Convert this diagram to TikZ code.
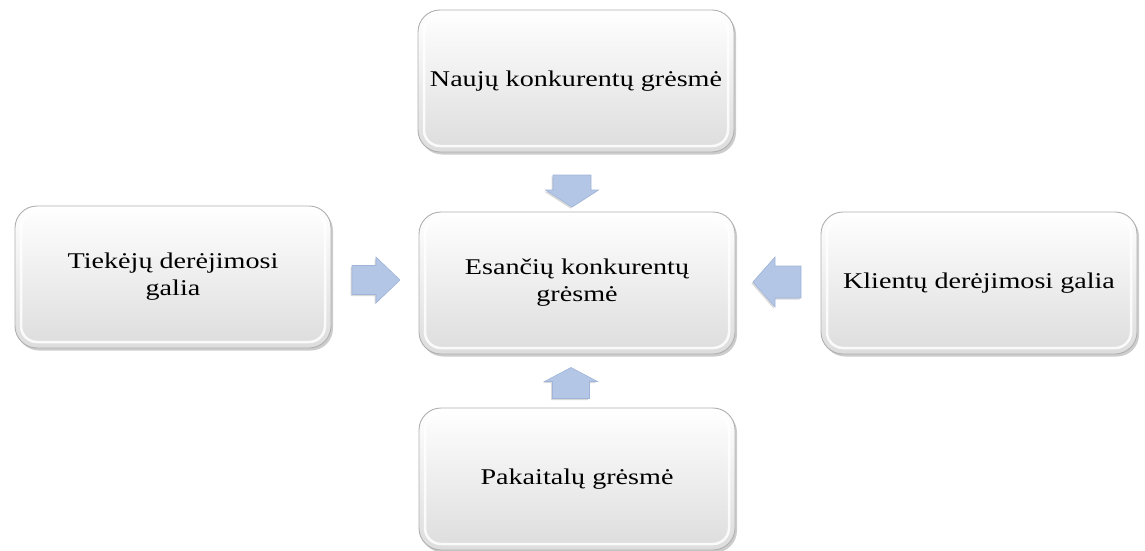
\documentclass[tikz,border=0pt]{standalone}
\usepackage{fontspec}
\setmainfont{Liberation Serif}
\newfontfamily\boxfont[FakeStretch=1.25]{Liberation Serif}
\usetikzlibrary{shadows}
\definecolor{arrowfill}{HTML}{B4C6E6}
\definecolor{arrowedge}{HTML}{9FB4D8}
\tikzset{
  forcebox/.style={
    rounded corners=22pt, minimum width=316pt, minimum height=142pt,
    align=center, font=\boxfont\fontsize{22.5}{27}\selectfont, text=black,
    top color=white, bottom color=gray!27, draw=gray!62, line width=0.9pt,
    drop shadow={opacity=0.4, shadow xshift=2pt, shadow yshift=-2.5pt},
    path picture={
      \draw[white, line width=2.5pt, rounded corners=16pt, opacity=0.85]
        ([shift={(6pt,-6pt)}]path picture bounding box.north west) rectangle
        ([shift={(-6pt,6pt)}]path picture bounding box.south east);
    }},
  arrowbody/.style={fill=arrowfill, draw=arrowedge, line width=0.6pt,
    drop shadow={opacity=0.3, shadow xshift=-1.5pt, shadow yshift=-1.5pt}},
  % block arrow pointing along +x: length, head length, head width, shaft width
  pics/blockarrow/.style n args={4}{code={
    \draw[arrowbody] (-#1/2,-#4/2) -- (#1/2-#2,-#4/2) -- (#1/2-#2,-#3/2)
      -- (#1/2,0) -- (#1/2-#2,#3/2) -- (#1/2-#2,#4/2) -- (-#1/2,#4/2) -- cycle;
  }}
}
\begin{document}
\begin{tikzpicture}[x=1pt, y=-1pt]
  \useasboundingbox (0,0) rectangle (1145,551);

  % five forces
  \node[forcebox] (new)   at (576,81)  {Naujų konkurentų grėsmė};
  \node[forcebox] (rival) at (577,283) {Esančių konkurentų\\grėsmė};
  \node[forcebox] (sup)   at (173,277) {Tiekėjų derėjimosi\\galia};
  \node[forcebox] (cli)   at (979,283) {Klientų derėjimosi galia};
  \node[forcebox] (subs)  at (577,479) {Pakaitalų grėsmė};

  % block arrows pointing at the centre box
  \coordinate (anew) at (572,191);
  \coordinate (asup) at (376,280);
  \coordinate (acli) at (777,282);
  \coordinate (asub) at (571,383);
  \pic[rotate=-90] at (anew) {blockarrow={32}{17}{53}{38}};
  \pic             at (asup) {blockarrow={48}{24}{46}{29}};
  \pic[rotate=180] at (acli) {blockarrow={48}{22}{50}{32}};
  \pic[rotate=90]  at (asub) {blockarrow={31}{14}{53}{37}};
\end{tikzpicture}
\end{document}
